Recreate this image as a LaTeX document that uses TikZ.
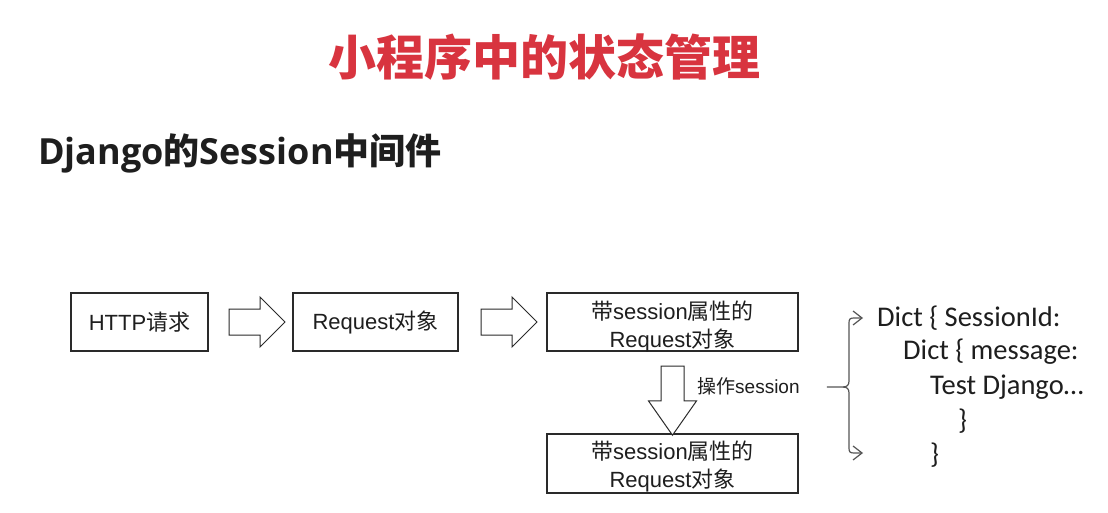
\documentclass[tikz,border=0pt]{standalone}
\usepackage{fontspec}
\setmainfont{Liberation Sans}
\newfontfamily\cjk{Noto Sans CJK SC}
\newfontfamily\osans{Open Sans}
\newfontfamily\carl{Carlito}
\usetikzlibrary{shapes.arrows,arrows.meta,calc}
\definecolor{titlered}{HTML}{D8343F}
\definecolor{ink}{HTML}{1E1E1E}
\definecolor{edge}{HTML}{2A2A2A}
\definecolor{bracegray}{HTML}{555555}
\newcommand{\zh}[1]{{\cjk #1}}

\begin{document}
\begin{tikzpicture}[x=1pt,y=-1pt,
  stage/.style={draw=edge, line width=1.1pt, minimum width=#1, minimum height=58pt,
    inner sep=0pt, align=center, text=ink, font=\fontsize{22}{28}\selectfont},
  stagetext/.style={inner sep=0pt, align=center, text=ink, font=\fontsize{22}{28}\selectfont},
  blockarrow/.style={single arrow, draw=edge, line width=1pt, fill=white,
    inner xsep=0pt, inner ysep=12.5pt, single arrow head extend=12pt,
    minimum height=56pt},
  dictline/.style={anchor=west, inner sep=0pt, text=ink,
    font=\carl\fontsize{28.5}{34}\selectfont},
  bracepen/.style={draw=bracegray, line width=1.2pt,
    -{Straight Barb[length=9pt,width=14pt,line width=1.2pt]}},
]
\useasboundingbox (0,0) rectangle (1108,513);
\fill[white] (0,0) rectangle (1108,513);

% headings
\node[text=titlered, font=\cjk\bfseries\fontsize{48}{54}\selectfont] (title) at (544,57) {小程序中的状态管理};
\node[anchor=west, inner sep=0pt, text=ink, font=\fontsize{36}{40}\selectfont\bfseries] (sub) at (38,153)
  {{\osans Django}\zh{的}{\osans Session}\zh{中间件}};

% processing stages
\node[stage=137pt] (http) at (139.5,322) {HTTP\zh{请求}};
\node[stage=165pt] (req) at (375.5,322) {Request\zh{对象}};
\node[stage=251pt] (sreq) at (672.5,322) {};
\node[stage=251pt, minimum height=59pt] (sreq2) at (672.5,463.5) {};
\node[stagetext] (sreqt) at ($(sreq.center)+(0,4)$) {\zh{带}session\zh{属性的}\\Request\zh{对象}};
\node[stagetext] (sreqt2) at ($(sreq2.center)+(0,3)$) {\zh{带}session\zh{属性的}\\Request\zh{对象}};

% block arrows between the stages
\node[blockarrow] (a1) at ($(http.east)!0.5!(req.west)$) {};
\node[blockarrow] (a2) at ($(req.east)!0.5!(sreq.west)$) {};
\node[blockarrow, rotate=-90, minimum height=69pt, inner ysep=11pt,
      single arrow head extend=12.5pt, single arrow tip angle=70]
      (a3) at ($(sreq.south)!0.5!(sreq2.north)$) {};
\node[anchor=west, inner sep=0pt, text=ink, font=\fontsize{19}{22}\selectfont]
  (op) at (697,386) {\zh{操作}session};

% session dictionary
\node[dictline] (d1) at (877,318) {Dict \{ SessionId:};
\node[dictline] (d2) at (903,352) {Dict \{ message:};
\node[dictline] (d3) at (930,387) {Test Django\ldots};
\node[dictline] (d4) at (958,421) {\}};
\node[dictline] (d5) at (930,455) {\}};

% brace linking the operation to the dictionary
\coordinate (bin) at ($(op.east)+(27,1)$);
\coordinate (t1) at ($(d1.west)+(-14,0)$);
\coordinate (t5) at ($(d1.west)+(-14,135)$);
\draw[bracepen] (bin) -- (843,387) .. controls (847,387) and (849,385) .. (849,381)
  -- (849,323) .. controls (849,319) and (850,318) .. (854,318) -- (t1);
\draw[bracepen] (843,387) .. controls (847,387) and (849,389) .. (849,393)
  -- (849,448) .. controls (849,452) and (850,453) .. (854,453) -- (t5);
\end{tikzpicture}
\end{document}
